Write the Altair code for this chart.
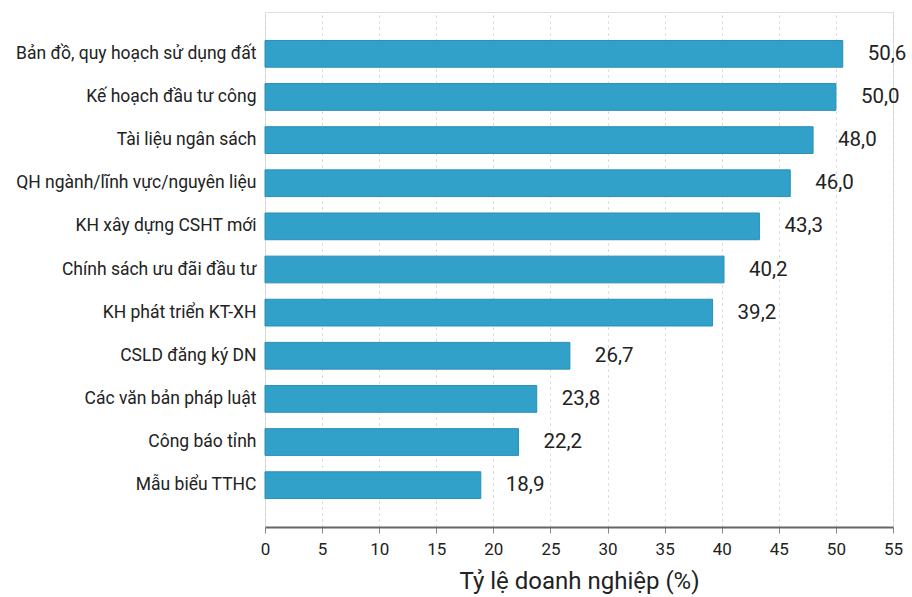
import altair as alt
import pandas as pd

categories = [
    "Bản đồ, quy hoạch sử dụng đất",
    "Kế hoạch đầu tư công",
    "Tài liệu ngân sách",
    "QH ngành/lĩnh vực/nguyên liệu",
    "KH xây dựng CSHT mới",
    "Chính sách ưu đãi đầu tư",
    "KH phát triển KT-XH",
    "CSLD đăng ký DN",
    "Các văn bản pháp luật",
    "Công báo tỉnh",
    "Mẫu biểu TTHC",
]
values = [50.6, 50.0, 48.0, 46.0, 43.3, 40.2, 39.2, 26.7, 23.8, 22.2, 18.9]

df = pd.DataFrame({
    "cat": categories,
    "val": values,
    "lab": [f"{v:.1f}".replace(".", ",") for v in values],
})

FONT = "Roboto"

y = alt.Y("cat:N", sort=categories,
          scale=alt.Scale(paddingInner=0.38, paddingOuter=0.66),
          axis=alt.Axis(title=None, domain=False, ticks=False, labelPadding=9,
                        labelFontSize=17.5, labelColor="#222222", labelFont=FONT,
                        labelLimit=300))
x = alt.X("val:Q", scale=alt.Scale(domain=[0, 55]),
          axis=alt.Axis(values=list(range(0, 56, 5)), title="Tỷ lệ doanh nghiệp (%)",
                        titleFontSize=24, titleFont=FONT, titleFontWeight="normal",
                        titleColor="#222222", titlePadding=12,
                        labelFontSize=17, labelFont=FONT, labelColor="#222222",
                        labelPadding=8, labelFlush=False,
                        domainColor="#666666", domainWidth=2,
                        tickColor="#888888", tickSize=6, tickWidth=1,
                        grid=True, gridColor="#d0d0d0", gridDash=[2, 4], gridWidth=1))

bars = alt.Chart(df).mark_bar(color="#31a1c9", stroke="#2a8fb6", strokeWidth=1).encode(x=x, y=y)
text = alt.Chart(df).mark_text(align="left", dx=25, fontSize=20.5, font=FONT, color="#222222").encode(
    x="val:Q", y=alt.Y("cat:N", sort=categories), text="lab:N")

chart = (bars + text).properties(
    width=628, height=515,
    autosize=alt.AutoSizeParams(type="none"),
    padding={"left": 265, "top": 12, "right": 19, "bottom": 70},
).configure_view(stroke=None).configure(background="white")

chart.save("out.html", embed_options={"renderer": "svg", "actions": False})
